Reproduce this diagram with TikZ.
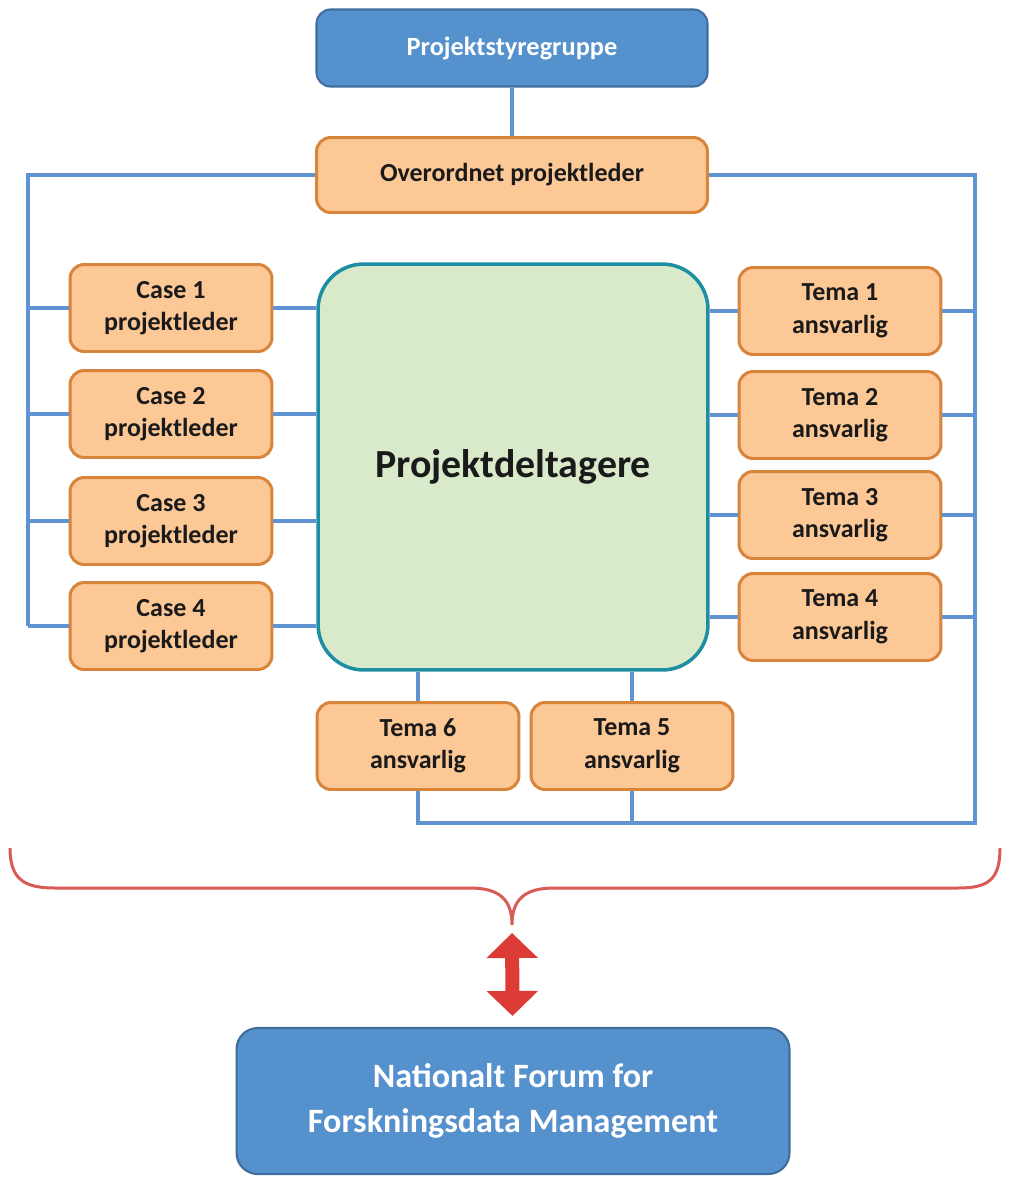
\documentclass[tikz,border=0pt]{standalone}
\usepackage{fontspec}
\setmainfont{Carlito}
\usetikzlibrary{arrows.meta}
\definecolor{boardblue}{HTML}{5591CC}
\definecolor{boardedge}{HTML}{3F6E9E}
\definecolor{leadfill}{HTML}{FBC896}
\definecolor{leadedge}{HTML}{D9843B}
\definecolor{corefill}{HTML}{D8EAC9}
\definecolor{coreedge}{HTML}{1E8EA3}
\definecolor{busblue}{HTML}{5F93D2}
\definecolor{bracered}{HTML}{DA5A55}
\definecolor{arrowred}{HTML}{DC3B36}
\definecolor{ink}{HTML}{1A1A1A}

\begin{document}
\begin{tikzpicture}[x=0.02cm,y=-0.02cm,
  point/.style={coordinate},
  board/.style={draw=boardedge, line width=1.2pt, fill=boardblue, rounded corners=8pt, rectangle, text=white, align=center},
  lead/.style={draw=leadedge, line width=1.7pt, fill=leadfill, rounded corners=8pt, rectangle, minimum width=4.04cm, minimum height=1.74cm, text=ink, align=center, font=\fontsize{14.8}{18.5}\selectfont\bfseries},
  core/.style={draw=coreedge, line width=2pt, fill=corefill, rounded corners=26pt, rectangle, minimum width=7.8cm, minimum height=8.12cm, text=ink, font=\fontsize{22.7}{27}\selectfont\bfseries},
  bus/.style={draw=busblue, line width=2.3pt},
  brace/.style={draw=bracered, line width=1.7pt},
  updown/.style={draw=arrowred, line width=0.28cm, {Triangle[width=1cm,length=0.5cm]}-{Triangle[width=1cm,length=0.5cm]}}]
\path[use as bounding box, fill=white] (0,0) rectangle (1008,1177);
\node[board, minimum width=7.82cm, minimum height=1.54cm, font=\fontsize{15}{18}\selectfont\bfseries] (0) at (512,48) {Projektstyregruppe};
\node[lead, minimum width=7.82cm, minimum height=1.5cm] (1) at (512,175) {Overordnet projektleder};
\node[core] (2) at (513,467) {Projektdeltagere};
\node[lead] (3) at (171,308) {Case 1\\projektleder};
\node[lead] (4) at (171,414) {Case 2\\projektleder};
\node[lead] (5) at (171,521) {Case 3\\projektleder};
\node[lead] (6) at (171,626) {Case 4\\projektleder};
\node[lead] (7) at (840,311) {Tema 1\\ansvarlig};
\node[lead] (8) at (840,415) {Tema 2\\ansvarlig};
\node[lead] (9) at (840,515) {Tema 3\\ansvarlig};
\node[lead] (10) at (840,617) {Tema 4\\ansvarlig};
\node[lead] (11) at (418,746) {Tema 6\\ansvarlig};
\node[lead] (12) at (632,746) {Tema 5\\ansvarlig};
\node[board, minimum width=11.06cm, minimum height=2.92cm, rounded corners=12pt, font=\fontsize{19.4}{25.5}\selectfont\bfseries] (13) at (513,1101) {Nationalt Forum for\\Forskningsdata Management};
\node[point] (14) at (28,175)  {};
\node[point] (15) at (28,626)  {};
\node[point] (16) at (975,175)  {};
\node[point] (17) at (975,823)  {};
\node[point] (18) at (512,925)  {};
\draw[bus]   (0) -- (1);
\draw[bus]   (1) -- (14) -- (15);
\draw[bus]   (1) -- (16) -- (17) -- (17 -| 11) -- (11);
\draw[bus]   (12) -- (12 |- 17);
\draw[bus]   (3) -- (3 -| 14);
\draw[bus]   (4) -- (4 -| 14);
\draw[bus]   (5) -- (5 -| 14);
\draw[bus]   (6) -- (6 -| 14);
\draw[bus]   (3) -- (3 -| 2.west);
\draw[bus]   (4) -- (4 -| 2.west);
\draw[bus]   (5) -- (5 -| 2.west);
\draw[bus]   (6) -- (6 -| 2.west);
\draw[bus]   (7) -- (7 -| 2.east);
\draw[bus]   (8) -- (8 -| 2.east);
\draw[bus]   (9) -- (9 -| 2.east);
\draw[bus]   (10) -- (10 -| 2.east);
\draw[bus]   (7) -- (7 -| 16);
\draw[bus]   (8) -- (8 -| 16);
\draw[bus]   (9) -- (9 -| 16);
\draw[bus]   (10) -- (10 -| 16);
\draw[bus]   (11) -- (11 |- 2.south);
\draw[bus]   (12) -- (12 |- 2.south);
\draw[brace] (10,848) .. controls (10,880) and (25,888) .. (55,888) -- (470,888)
  .. controls (500,888) and (512,900) .. (18.center) .. controls (512,900) and (524,888) .. (554,888)
  -- (958,888) .. controls (988,888) and (1000,880) .. (1000,848);
\draw[updown, shorten <=0.16cm, shorten >=0.22cm]   (18) -- (13);
\end{tikzpicture}
\end{document}
